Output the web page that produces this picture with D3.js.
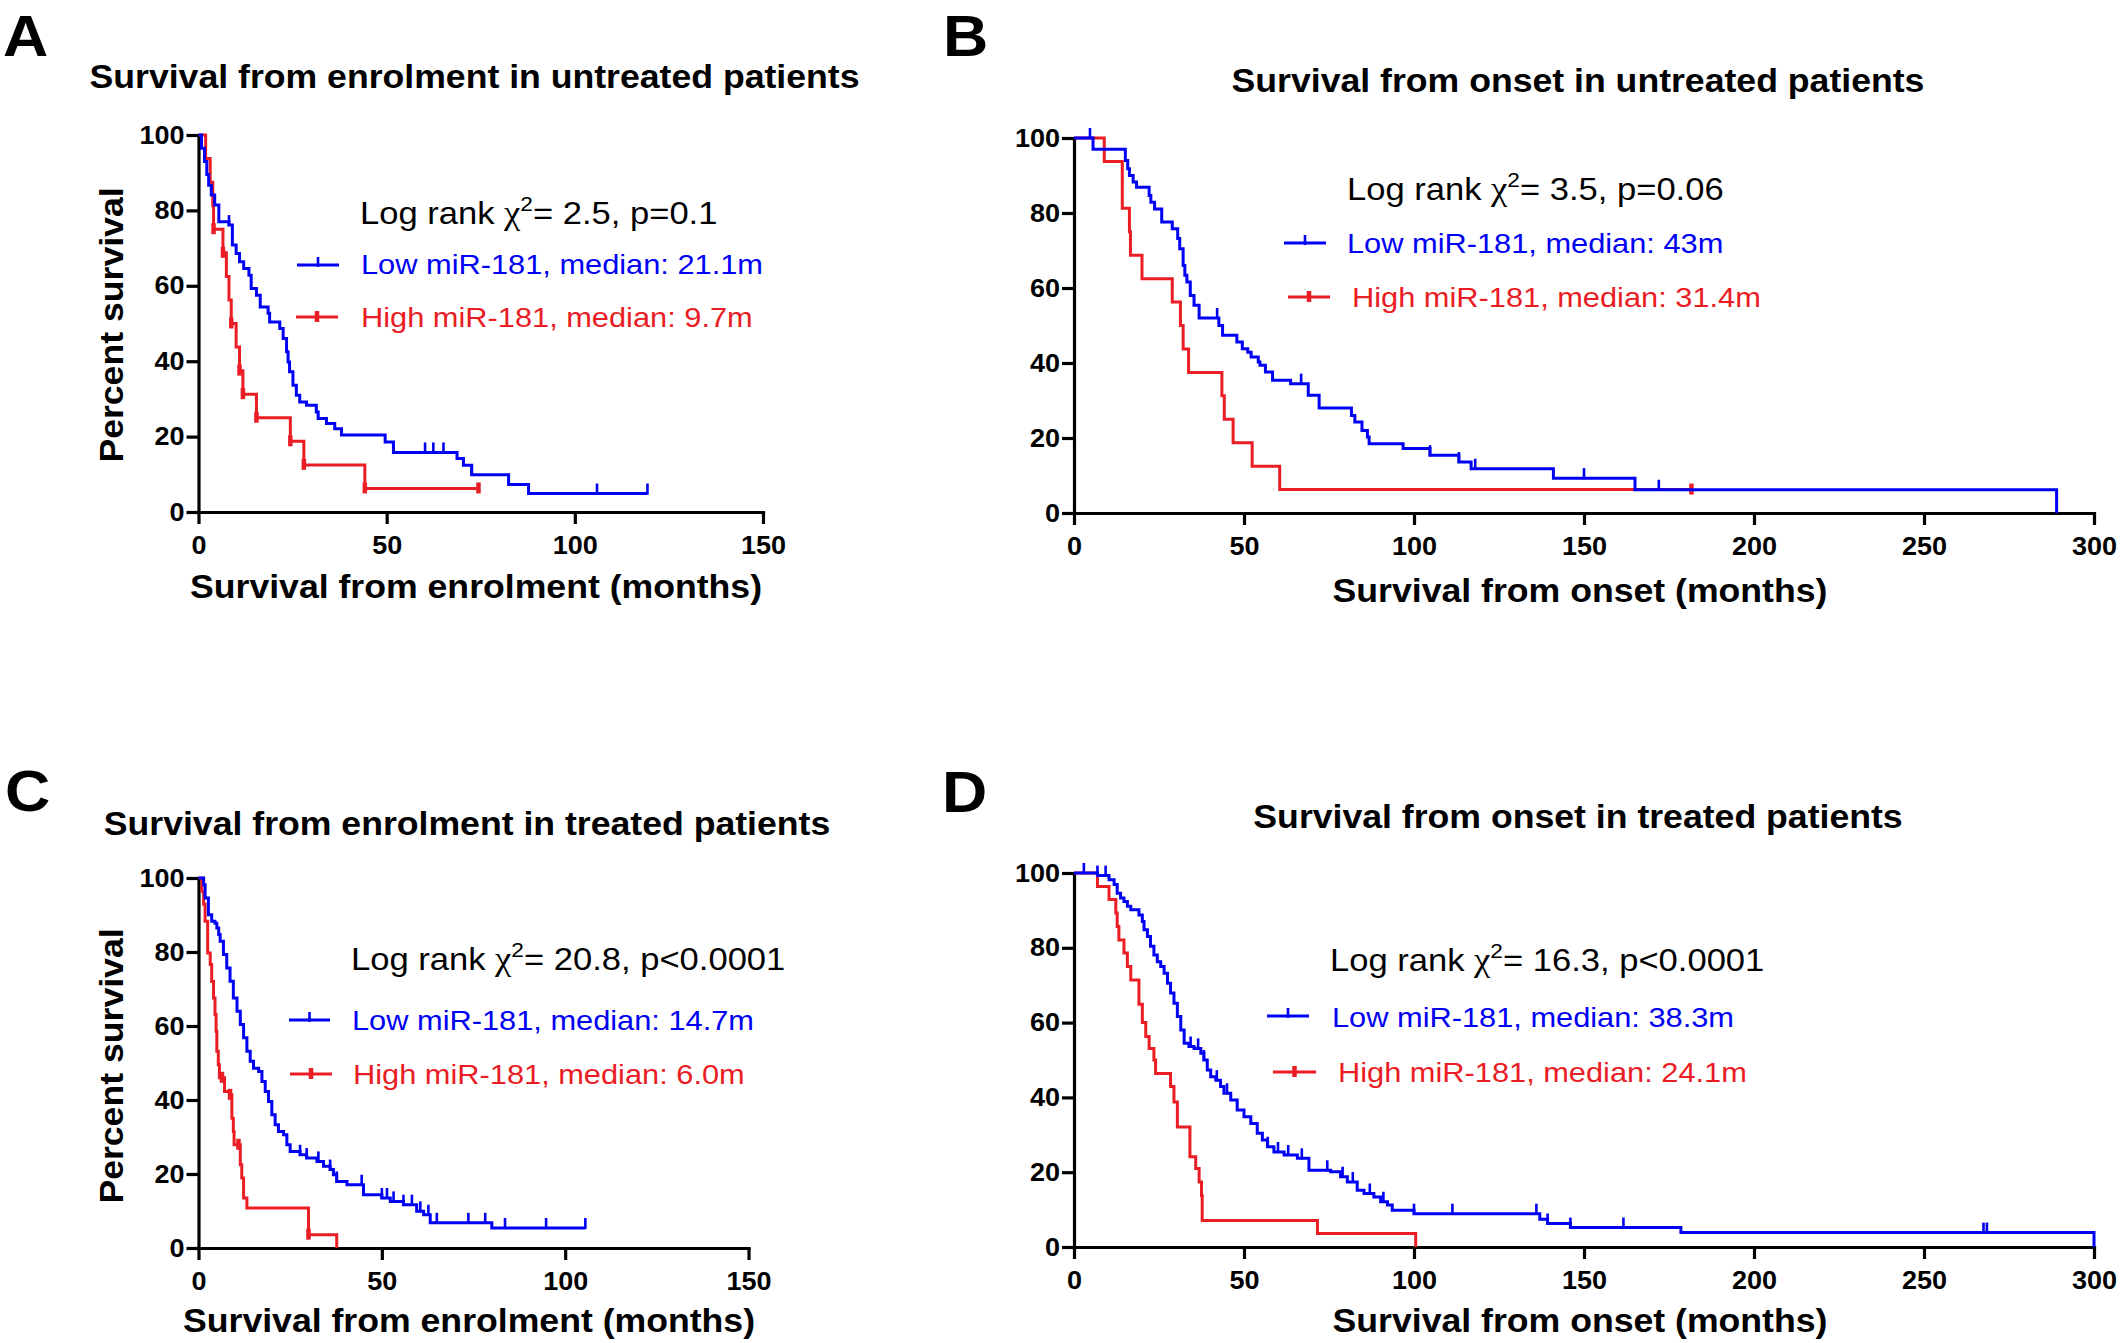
<!DOCTYPE html>
<html>
<head>
<meta charset="utf-8">
<script src="https://cdn.jsdelivr.net/npm/d3@7"></script>
<style>
  html, body { margin: 0; padding: 0; background: #fff; }
  svg { display: block; }
  text { font-family: "Liberation Sans", Arial, Helvetica, sans-serif; }
</style>
</head>
<body>
<svg id="chart"></svg>
<script>
// ---- text of the four panels ----
const panelLetters = ["A", "B", "C", "D"];
const panelTitles = [
  "Survival from enrolment in untreated patients",
  "Survival from onset in untreated patients",
  "Survival from enrolment in treated patients",
  "Survival from onset in treated patients"
];
const xAxisTitles = [
  "Survival from enrolment (months)",
  "Survival from onset (months)",
  "Survival from enrolment (months)",
  "Survival from onset (months)"
];
const yAxisTitle = "Percent survival";
const logRankStats = ["2.5, p=0.1", "3.5, p=0.06", "20.8, p<0.0001", "16.3, p<0.0001"];
const lowLabels = [
  "Low miR-181, median: 21.1m", "Low miR-181, median: 43m",
  "Low miR-181, median: 14.7m", "Low miR-181, median: 38.3m"
];
const highLabels = [
  "High miR-181, median: 9.7m", "High miR-181, median: 31.4m",
  "High miR-181, median: 6.0m", "High miR-181, median: 24.1m"
];

// ---- ticks ----
const yTicks = [0, 20, 40, 60, 80, 100];
const xTicksEnrol = [0, 50, 100, 150];
const xTicksOnset = [0, 50, 100, 150, 200, 250, 300];

// ---- Kaplan-Meier steps (time in months, % surviving after that time) ----
// A: enrolment, untreated
const aLowTime = [0, 0.8, 1.6, 2.2, 2.7, 3.4, 4.3, 5.4, 8.1, 9.0, 10.0, 10.9, 12.0, 13.4, 14.0, 15.4, 16.4, 18.5, 18.9, 21.6,
  22.5, 23.4, 23.8, 24.2, 25.1, 26.0, 26.9, 28.7, 31.3, 31.8, 34.0, 36.2, 38.0, 49.6, 51.8, 68.7, 70.4, 72.6, 82.4, 87.7];
const aLowSurv = [100, 96.5, 93.0, 89.5, 86.7, 84.1, 81.4, 77.0, 76.1, 70.8, 68.6, 66.4, 64.6, 62.8, 59.3, 57.5, 54.4, 52.7, 50.4, 48.7,
  46.0, 42.5, 39.8, 37.2, 33.6, 31.0, 29.2, 28.3, 26.5, 24.8, 23.5, 22.1, 20.4, 18.6, 15.8, 14.2, 12.4, 9.9, 7.3, 4.9];
const aLowEnd = 119.3;
const aLowCensor = [8.1, 60.2, 62.4, 65.1, 72.6, 105.9, 119.3];
const aHighTime = [0, 1.9, 3.1, 3.8, 4.0, 6.5, 7.4, 8.1, 8.7, 10.0, 10.9, 11.8, 15.4, 24.4, 28.0, 44.2];
const aHighSurv = [100, 93.75, 87.5, 81.25, 75, 68.75, 62.5, 56.25, 50, 43.75, 37.5, 31.25, 25, 18.75, 12.5, 6.25];
const aHighEnd = 74.4;
const aHighCensor = [4.0, 6.5, 8.7, 10.9, 11.8, 15.4, 24.4, 28.0, 44.2, 74.4];

// B: onset, untreated
const bLowTime = [0, 5.6, 15.1, 15.8, 16.3, 17.4, 18.4, 22.1, 22.6, 23.7, 25.8, 28.9, 30.5, 31.1, 32.1, 32.6, 33.2, 34.2, 35.3, 36.8,
  42.6, 43.7, 47.9, 49.5, 51.1, 52.1, 54.2, 54.7, 56.3, 58.4, 63.7, 68.9, 72.1, 81.6, 82.6, 84.7, 86.3, 86.8, 96.8, 104.7,
  113.2, 116.8, 141.0, 165.0, 289.0];
const bLowSurv = [100, 97.0, 94.0, 91.8, 90.0, 88.3, 86.9, 84.7, 82.9, 81.1, 77.6, 75.8, 73.2, 70.5, 66.0, 63.4, 61.6, 58.0, 55.4, 52.0,
  50.0, 47.4, 45.6, 43.8, 42.9, 41.6, 40.3, 39.4, 37.6, 35.4, 34.5, 31.4, 28.0, 26.0, 24.3, 22.0, 20.3, 18.5, 17.2, 15.4,
  13.6, 11.8, 9.3, 6.2, 0];
const bLowEnd = 289.0;
const bLowCensor = [4.7, 42.1, 66.8, 104.7, 113.2, 118.0, 150.0, 172.0];
const bHighTime = [0, 8.9, 14.2, 16.3, 16.6, 20.0, 28.9, 31.3, 32.1, 33.7, 43.5, 44.2, 46.8, 52.4, 60.5];
const bHighSurv = [100, 93.75, 81.25, 75, 68.75, 62.5, 56.25, 50, 43.75, 37.5, 31.25, 25, 18.75, 12.5, 6.25];
const bHighEnd = 181.6;
const bHighCensor = [181.6];

// C: enrolment, treated
const cLowTime = [0, 1.4, 1.8, 2.7, 3.6, 4.5, 5.0, 5.5, 5.9, 6.8, 7.7, 8.6, 9.5, 10.5, 11.4, 12.3, 13.2, 14.1, 15.0, 16.4,
  17.3, 18.2, 19.1, 20.0, 20.9, 21.8, 23.2, 24.1, 25.0, 27.7, 29.5, 32.3, 34.1, 35.9, 36.8, 37.7, 40.5, 45.0, 50.0, 52.3,
  55.9, 59.5, 61.4, 63.2, 80.0];
const cLowSurv = [100, 98.2, 94.6, 90.1, 88.3, 87.8, 86.5, 84.7, 82.9, 79.3, 75.7, 72.1, 67.6, 64.0, 60.4, 56.8, 53.2, 50.5, 48.6, 47.7,
  45.0, 42.3, 39.6, 36.0, 33.3, 31.5, 30.6, 27.9, 26.1, 25.2, 24.3, 23.4, 22.1, 21.2, 19.8, 18.0, 17.1, 14.4, 13.5, 12.6,
  11.7, 9.9, 9.0, 6.8, 5.4];
const cLowEnd = 105.5;
const cLowCensor = [27.7, 29.5, 32.7, 35.9, 37.7, 44.5, 50.0, 51.4, 53.2, 55.9, 58.2, 60.5, 62.7, 65.0, 73.6, 78.2, 83.6, 94.8, 105.5];
const cHighTime = [0, 0.9, 1.4, 1.8, 2.5, 3.2, 3.6, 4.1, 4.5, 4.8, 5.0, 5.4, 5.7, 7.1, 8.6, 9.1, 9.5, 9.7, 11.4, 11.8, 12.3, 13.2, 30.0, 37.7];
const cHighSurv = [100, 96.4, 92.9, 88.3, 79.7, 76.6, 72.0, 67.6, 63.1, 58.6, 53.2, 49.5, 46.0, 42.3, 41.4, 35.1, 31.5, 27.9, 22.5, 18.9, 13.5, 10.8, 3.6, 0];
const cHighEnd = 37.7;
const cHighCensor = [6.4, 8.6, 10.9, 30.0];

// D: onset, treated
const dLowTime = [0, 6.9, 10.3, 11.8, 12.7, 13.7, 14.7, 15.7, 16.7, 19.1, 20.1, 20.6, 21.6, 22.5, 23.5, 24.5, 25.5, 26.5, 27.5, 28.4,
  29.4, 30.4, 31.4, 32.4, 33.8, 35.3, 37.3, 38.2, 39.2, 40.2, 41.7, 43.1, 44.1, 46.1, 48.0, 50.0, 52.0, 53.9, 55.4, 56.9,
  58.8, 61.8, 65.7, 69.1, 75.5, 78.4, 80.4, 83.3, 85.3, 88.2, 90.2, 92.2, 93.6, 100.0, 137.0, 139.3, 146.0, 178.5, 300.0];
const dLowSurv = [100, 99.3, 98.2, 96.9, 94.6, 93.3, 92.4, 91.1, 90.2, 88.8, 87.0, 84.8, 83.0, 80.4, 78.1, 76.3, 75.0, 73.2, 70.5, 67.9,
  65.2, 61.6, 58.0, 54.5, 53.6, 53.1, 51.8, 50.0, 47.3, 45.5, 44.6, 42.9, 41.1, 39.3, 36.6, 34.8, 33.0, 30.4, 28.6, 26.8,
  25.4, 24.6, 23.7, 20.5, 20.1, 18.8, 17.4, 15.2, 14.3, 13.4, 12.1, 11.2, 9.8, 8.9, 7.4, 6.3, 5.2, 3.85, 0];
const dLowEnd = 300.0;
const dLowCensor = [2.9, 6.9, 9.3, 34.3, 36.5, 38.2, 42.0, 45.0, 57.0, 60.0, 63.0, 67.0, 74.5, 79.0, 82.0, 87.0, 91.0,
  100.0, 111.3, 136.0, 139.3, 146.0, 161.6, 267.5, 268.5];
const dHighTime = [0, 6.9, 10.3, 12.3, 12.7, 13.2, 14.7, 15.7, 16.7, 19.1, 20.1, 21.1, 22.1, 23.5, 24.0, 28.4, 29.4, 30.4,
  34.1, 35.8, 36.8, 37.5, 37.7, 71.6, 100.5];
const dHighSurv = [100, 96.4, 92.9, 89.3, 85.7, 82.1, 78.6, 75.0, 71.4, 64.9, 60.0, 56.3, 53.1, 50.0, 46.4, 42.9, 38.8, 32.1,
  24.1, 21.0, 17.4, 13.8, 7.1, 3.6, 0];
const dHighEnd = 100.5;
const dHighCensor = [];

// ---- page set-up ----
const W = 2120, H = 1343;
const SX = 1.08;            // lettering in the figure is a little wide
const BLUE = "#0000f5", RED = "#ea1c24";

const svg = d3.select("#chart").attr("width", W).attr("height", H);

// layout of each panel (pixel positions only)
const layout = [
  { box: [198.5, 763, 512, 135], xMax: 150, xTicks: xTicksEnrol, letter: [3, 56], title: [474.5, 88],
    xTitle: [476, 598], yTitle: [123, 325], lr: [360, 224],
    lowLeg: [297, 339, 265, 361, 274], highLeg: [296, 338, 317, 361, 327] },
  { box: [1074, 2094, 513, 138], xMax: 300, xTicks: xTicksOnset, letter: [943, 56], title: [1578, 92],
    xTitle: [1580, 602], yTitle: null, lr: [1347, 200],
    lowLeg: [1284, 1326, 243, 1347, 253], highLeg: [1288, 1330, 297, 1352, 307] },
  { box: [198.5, 748.5, 1248, 878], xMax: 150, xTicks: xTicksEnrol, letter: [5, 811], title: [467, 835],
    xTitle: [469, 1332], yTitle: [123, 1066], lr: [351, 970],
    lowLeg: [289, 330, 1020, 352, 1030], highLeg: [290, 332, 1074, 353, 1084] },
  { box: [1074, 2094, 1247, 873], xMax: 300, xTicks: xTicksOnset, letter: [942, 812], title: [1578, 828],
    xTitle: [1580, 1332], yTitle: null, lr: [1330, 971],
    lowLeg: [1267, 1309, 1016, 1332, 1027], highLeg: [1273, 1316, 1072, 1338, 1082] }
];

const curves = [
  { low: [aLowTime, aLowSurv, aLowEnd, aLowCensor], high: [aHighTime, aHighSurv, aHighEnd, aHighCensor] },
  { low: [bLowTime, bLowSurv, bLowEnd, bLowCensor], high: [bHighTime, bHighSurv, bHighEnd, bHighCensor] },
  { low: [cLowTime, cLowSurv, cLowEnd, cLowCensor], high: [cHighTime, cHighSurv, cHighEnd, cHighCensor] },
  { low: [dLowTime, dLowSurv, dLowEnd, dLowCensor], high: [dHighTime, dHighSurv, dHighEnd, dHighCensor] }
];

// text helper, stretched horizontally like the original figure
function label(g, x, y, str, size, weight, anchor, rotate) {
  return g.append("text")
    .attr("transform", `translate(${x},${y})` + (rotate ? " rotate(-90)" : "") + ` scale(${SX},1)`)
    .attr("text-anchor", anchor)
    .style("font-size", size + "px")
    .style("font-weight", weight)
    .text(str);
}

function survAt(times, surv, t) {
  let v = surv[0];
  for (let i = 0; i < times.length; i++) if (times[i] <= t) v = surv[i];
  return v;
}

function styleAxis(ga) {
  ga.attr("font-family", null).attr("font-size", null);
  ga.select(".domain").attr("stroke", "#000").attr("stroke-width", 3.2).attr("stroke-linecap", "square");
  ga.selectAll(".tick line").attr("stroke", "#000").attr("stroke-width", 3.2);
  ga.selectAll(".tick text")
    .attr("fill", "#000")
    .style("font-size", "25px")
    .style("font-weight", "bold")
    .each(function () {
      const t = d3.select(this);
      t.attr("x", (+t.attr("x") || 0) / SX).attr("transform", `scale(${SX},1)`);
    });
}

layout.forEach((p, i) => {
  const g = svg.append("g").attr("class", "panel-" + panelLetters[i]);
  const [x0, x1, y0, y1] = p.box;

  const x = d3.scaleLinear().domain([0, p.xMax]).range([x0, x1]);
  const y = d3.scaleLinear().domain([0, 100]).range([y0, y1]);

  // letters and titles
  label(g, p.letter[0], p.letter[1], panelLetters[i], 58, "bold", "start");
  label(g, p.title[0], p.title[1], panelTitles[i], 33, "bold", "middle");
  label(g, p.xTitle[0], p.xTitle[1], xAxisTitles[i], 33, "bold", "middle");
  if (p.yTitle) label(g, p.yTitle[0], p.yTitle[1], yAxisTitle, 33, "bold", "middle", true);

  // axes
  const gx = g.append("g")
    .attr("transform", `translate(0,${y0})`)
    .call(d3.axisBottom(x).tickValues(p.xTicks).tickSize(12).tickPadding(12).tickSizeOuter(0));
  styleAxis(gx);
  const gy = g.append("g")
    .attr("transform", `translate(${x0},0)`)
    .call(d3.axisLeft(y).tickValues(yTicks).tickSize(12).tickPadding(2).tickSizeOuter(0));
  styleAxis(gy);

  // survival curves
  const line = d3.line().x(d => x(d[0])).y(d => y(d[1])).curve(d3.curveStepAfter);
  [["high", RED], ["low", BLUE]].forEach(([key, col]) => {
    const [times, surv, end, cens] = curves[i][key];
    const pts = times.map((t, k) => [t, surv[k]]);
    if (end > times[times.length - 1]) pts.push([end, surv[surv.length - 1]]);
    g.append("path")
      .attr("d", line(pts))
      .attr("fill", "none")
      .attr("stroke", col)
      .attr("stroke-width", 3);

    // censor ticks
    g.selectAll(".cens-" + key)
      .data(cens)
      .enter().append("line")
      .attr("class", "cens-" + key)
      .attr("x1", d => x(d)).attr("x2", d => x(d))
      .attr("y1", d => y(survAt(times, surv, d)) + (key === "low" ? 1 : 5))
      .attr("y2", d => y(survAt(times, surv, d)) - (key === "low" ? 10 : 6))
      .attr("stroke", col)
      .attr("stroke-width", key === "low" ? 2.6 : 4.5);
  });

  // log-rank statistic
  const lr = label(g, p.lr[0], p.lr[1], "", 32, "normal", "start").attr("fill", "#000");
  lr.append("tspan").text("Log rank ");
  lr.append("tspan").style("font-family", "'Liberation Serif','Times New Roman',serif").style("font-size", "34px").text("\u03c7");
  lr.append("tspan").attr("dy", -13).style("font-size", "21px").text("2");
  lr.append("tspan").attr("dy", 13).text("= " + logRankStats[i]);

  // legend
  [[p.lowLeg, lowLabels[i], BLUE, true], [p.highLeg, highLabels[i], RED, false]].forEach(([L, txt, col, isLow]) => {
    const [lx1, lx2, ly, tx, ty] = L;
    g.append("line").attr("x1", lx1).attr("x2", lx2).attr("y1", ly).attr("y2", ly)
      .attr("stroke", col).attr("stroke-width", 3);
    const mx = (lx1 + lx2) / 2;
    g.append("line").attr("x1", mx).attr("x2", mx)
      .attr("y1", ly + (isLow ? 2 : 5)).attr("y2", ly - (isLow ? 8 : 6))
      .attr("stroke", col).attr("stroke-width", isLow ? 2.6 : 4.5);
    label(g, tx, ty, txt, 28.5, "normal", "start").attr("fill", col);
  });
});
</script>
</body>
</html>
